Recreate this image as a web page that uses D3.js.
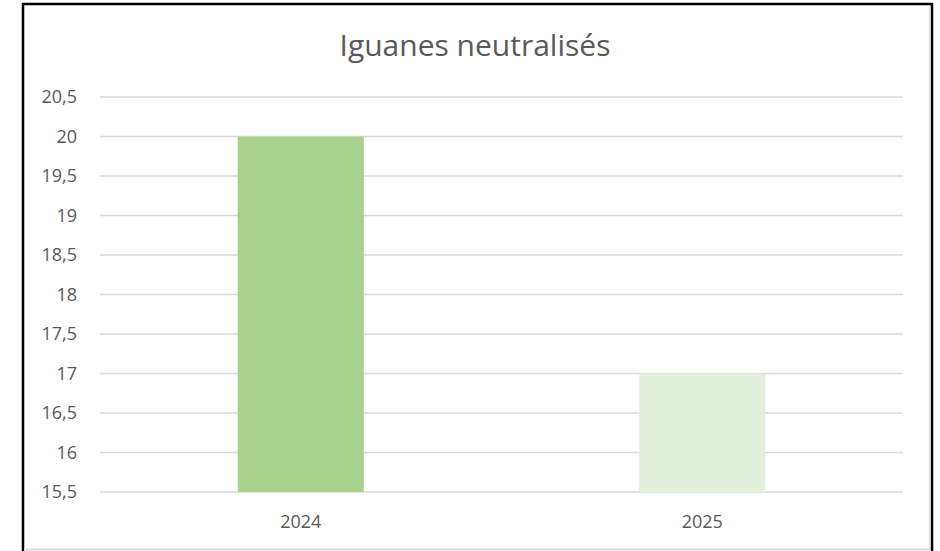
<!DOCTYPE html>
<html><head><meta charset="utf-8">
<script src="https://cdn.jsdelivr.net/npm/d3@7"></script>
<style>html,body{margin:0;padding:0;background:#fff;}</style>
</head><body>
<svg id="chart" width="940" height="551"></svg>
<script>
const title = "Iguanes neutralisés";
const categories = ["2024", "2025"];
const values = [20, 17];
const barColors = ["#a9d18e", "#e2efda"];
const yTicks = [15.5, 16, 16.5, 17, 17.5, 18, 18.5, 19, 19.5, 20, 20.5];
const yDomain = [15.5, 20.5];

const svg = d3.select("#chart");
const font = "'Open Sans', sans-serif";
const margin = {left: 100, right: 37, top: 97, bottom: 59};
const W = 940, H = 551;

// frame
svg.append("rect").attr("x", 0).attr("y", 0).attr("width", W).attr("height", H).attr("fill", "#fff");
svg.append("line").attr("x1", 22).attr("x2", 933).attr("y1", 4).attr("y2", 4).attr("stroke", "#000").attr("stroke-width", 2.5);
svg.append("line").attr("x1", 23).attr("x2", 23).attr("y1", 3).attr("y2", 551).attr("stroke", "#000").attr("stroke-width", 2.5);
svg.append("line").attr("x1", 932).attr("x2", 932).attr("y1", 3).attr("y2", 551).attr("stroke", "#000").attr("stroke-width", 2.5);
svg.append("line").attr("x1", 929.5).attr("x2", 929.5).attr("y1", 6).attr("y2", 549).attr("stroke", "#e3e3e3").attr("stroke-width", 1.5);
svg.append("line").attr("x1", 24).attr("x2", 930).attr("y1", 549.5).attr("y2", 549.5).attr("stroke", "#dcdcdc").attr("stroke-width", 2);

const x = d3.scaleBand().domain(categories)
  .range([margin.left, W - margin.right])
  .paddingInner(0.686).paddingOuter(0.343);
const y = d3.scaleLinear().domain(yDomain).range([H - margin.bottom, margin.top]);

// gridlines
svg.append("g").selectAll("line").data(yTicks).join("line")
  .attr("x1", margin.left).attr("x2", W - margin.right)
  .attr("y1", d => y(d)).attr("y2", d => y(d))
  .attr("stroke", "#d9d9d9").attr("stroke-width", 1.5);

// bars
svg.append("g").selectAll("rect").data(categories).join("rect")
  .attr("x", d => x(d)).attr("width", x.bandwidth())
  .attr("y", (d, i) => y(values[i]))
  .attr("height", (d, i) => y(yDomain[0]) - y(values[i]))
  .attr("fill", (d, i) => barColors[i]);

// y axis
const yAxis = d3.axisLeft(y).tickValues(yTicks).tickSize(0).tickPadding(0)
  .tickFormat(d => String(d).replace(".", ","));
const gy = svg.append("g").attr("transform", "translate(77,0)").call(yAxis);
gy.select(".domain").remove();
gy.selectAll("text").attr("font-family", font).attr("font-size", 18).attr("fill", "#595959");

// x axis
const xAxis = d3.axisBottom(x).tickSize(0).tickPadding(0);
const gx = svg.append("g").attr("transform", `translate(0,${H - margin.bottom})`).call(xAxis);
gx.select(".domain").remove();
gx.selectAll("text").attr("font-family", font).attr("font-size", 18).attr("fill", "#595959")
  .attr("dy", null).attr("y", 36);

// title
svg.append("text").attr("x", 475).attr("y", 56).attr("text-anchor", "middle")
  .attr("font-family", font).attr("font-size", 30).attr("fill", "#595959").text(title);
</script>
</body></html>
